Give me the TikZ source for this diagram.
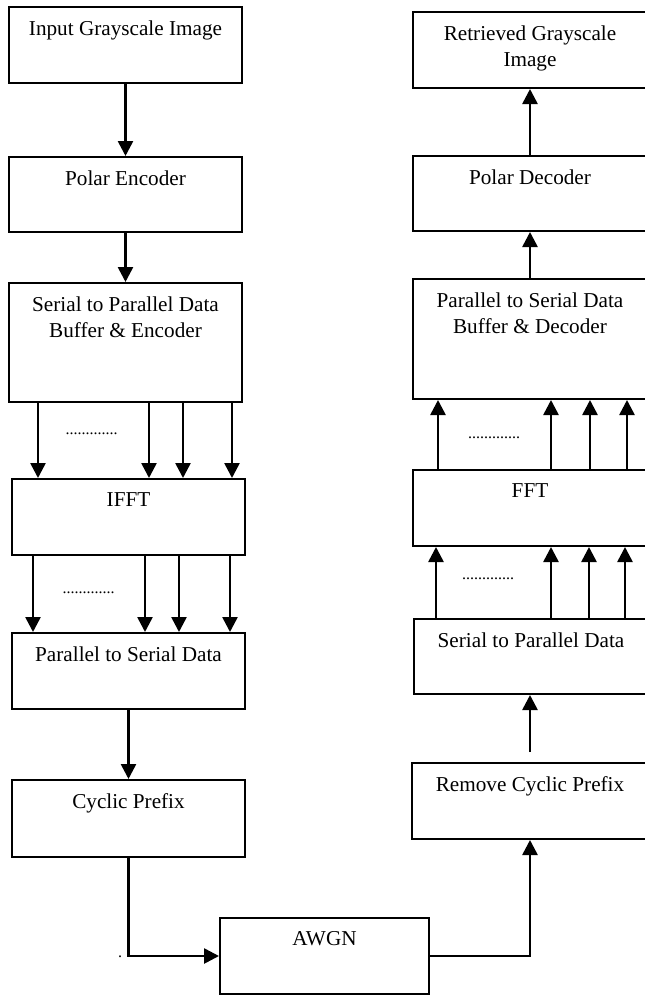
\documentclass[tikz,border=0pt]{standalone}
\usepackage{fontspec}
\setmainfont{Liberation Serif}
\usetikzlibrary{arrows.meta}

\begin{document}
\begin{tikzpicture}[
  x=0.5pt, y=-0.5pt,
  font=\fontsize{10.6}{13}\selectfont,
  blk/.style={
    rectangle, draw, line width=1pt, inner sep=0pt,
    minimum width=116.5pt, minimum height=38pt,
    label={[anchor=north, yshift=-7pt, inner sep=0pt, align=center]north:#1}
  },
  arr/.style={-{Triangle[length=7.5pt, width=7.5pt]}, line width=1.3pt},
  dots/.style={font=\fontsize{8}{10}\selectfont, inner sep=0pt, anchor=base}
]
  \useasboundingbox (0,0) rectangle (644,996);

  % transmitter chain
  \node[blk={Input Grayscale Image}] (img) at (125.5,45) {};
  \node[blk={Polar Encoder}, minimum height=37.5pt] (penc) at (125.5,194.5) {};
  \node[blk={Serial to Parallel Data\\Buffer \& Encoder}, minimum height=59.5pt] (spenc) at (125.5,342.5) {};
  \node[blk=IFFT] (ifft) at (128.5,517) {};
  \node[blk={Parallel to Serial Data}] (pstx) at (128.5,671) {};
  \node[blk={Cyclic Prefix}, minimum height=38.5pt] (cp) at (128.5,818.5) {};

  % channel
  \node[blk=AWGN, minimum width=104.5pt] (awgn) at (324.5,956) {};

  % receiver chain
  \node[blk={Remove Cyclic Prefix}, minimum width=118pt] (rcp) at (530,801) {};
  \node[blk={Serial to Parallel Data}, minimum width=117pt, minimum height=37.5pt] (sprx) at (531,656.5) {};
  \node[blk=FFT, minimum width=117pt] (fft) at (530,508) {};
  \node[blk={Parallel to Serial Data\\Buffer \& Decoder}, minimum width=117pt, minimum height=60pt] (psdec) at (530,339) {};
  \node[blk={Polar Decoder}, minimum width=117pt, minimum height=37.5pt] (pdec) at (530,193.5) {};
  \node[blk={Retrieved Grayscale\\Image}, minimum width=117pt] (out) at (530,50) {};

  % single links
  \draw[arr] (img) -- (penc);
  \draw[arr] (penc) -- (spenc);
  \draw[arr] (pstx) -- (cp);
  \draw[arr] (cp.south) |- (awgn.west);
  \draw[arr] (awgn.east) -| (rcp.south);
  \draw[arr] ([yshift=5pt]rcp.north) -- (rcp.north |- sprx.south);
  \draw[arr] (psdec) -- (pdec);
  \draw[arr] (pdec) -- (out);

  % parallel sub-carrier links
  \foreach \x in {38,149,183,232}
    \draw[arr] (\x,0 |- spenc.south) -- (\x,0 |- ifft.north);
  \foreach \x in {33,145,179,230}
    \draw[arr] (\x,0 |- ifft.south) -- (\x,0 |- pstx.north);
  \foreach \x in {436,551,589,625}
    \draw[arr] (\x,0 |- sprx.north) -- (\x,0 |- fft.south);
  \foreach \x in {438,551,590,627}
    \draw[arr] (\x,0 |- fft.north) -- (\x,0 |- psdec.south);

  \node[dots] (gaptx1) at (91.5,434) {.............};
  \node[dots] (gaptx2) at (88.5,593) {.............};
  \node[dots] (gaprx1) at (494,438) {.............};
  \node[dots] (gaprx2) at (488,579) {.............};
  \node[dots] (mark) at (120,957) {.};
\end{tikzpicture}
\end{document}
